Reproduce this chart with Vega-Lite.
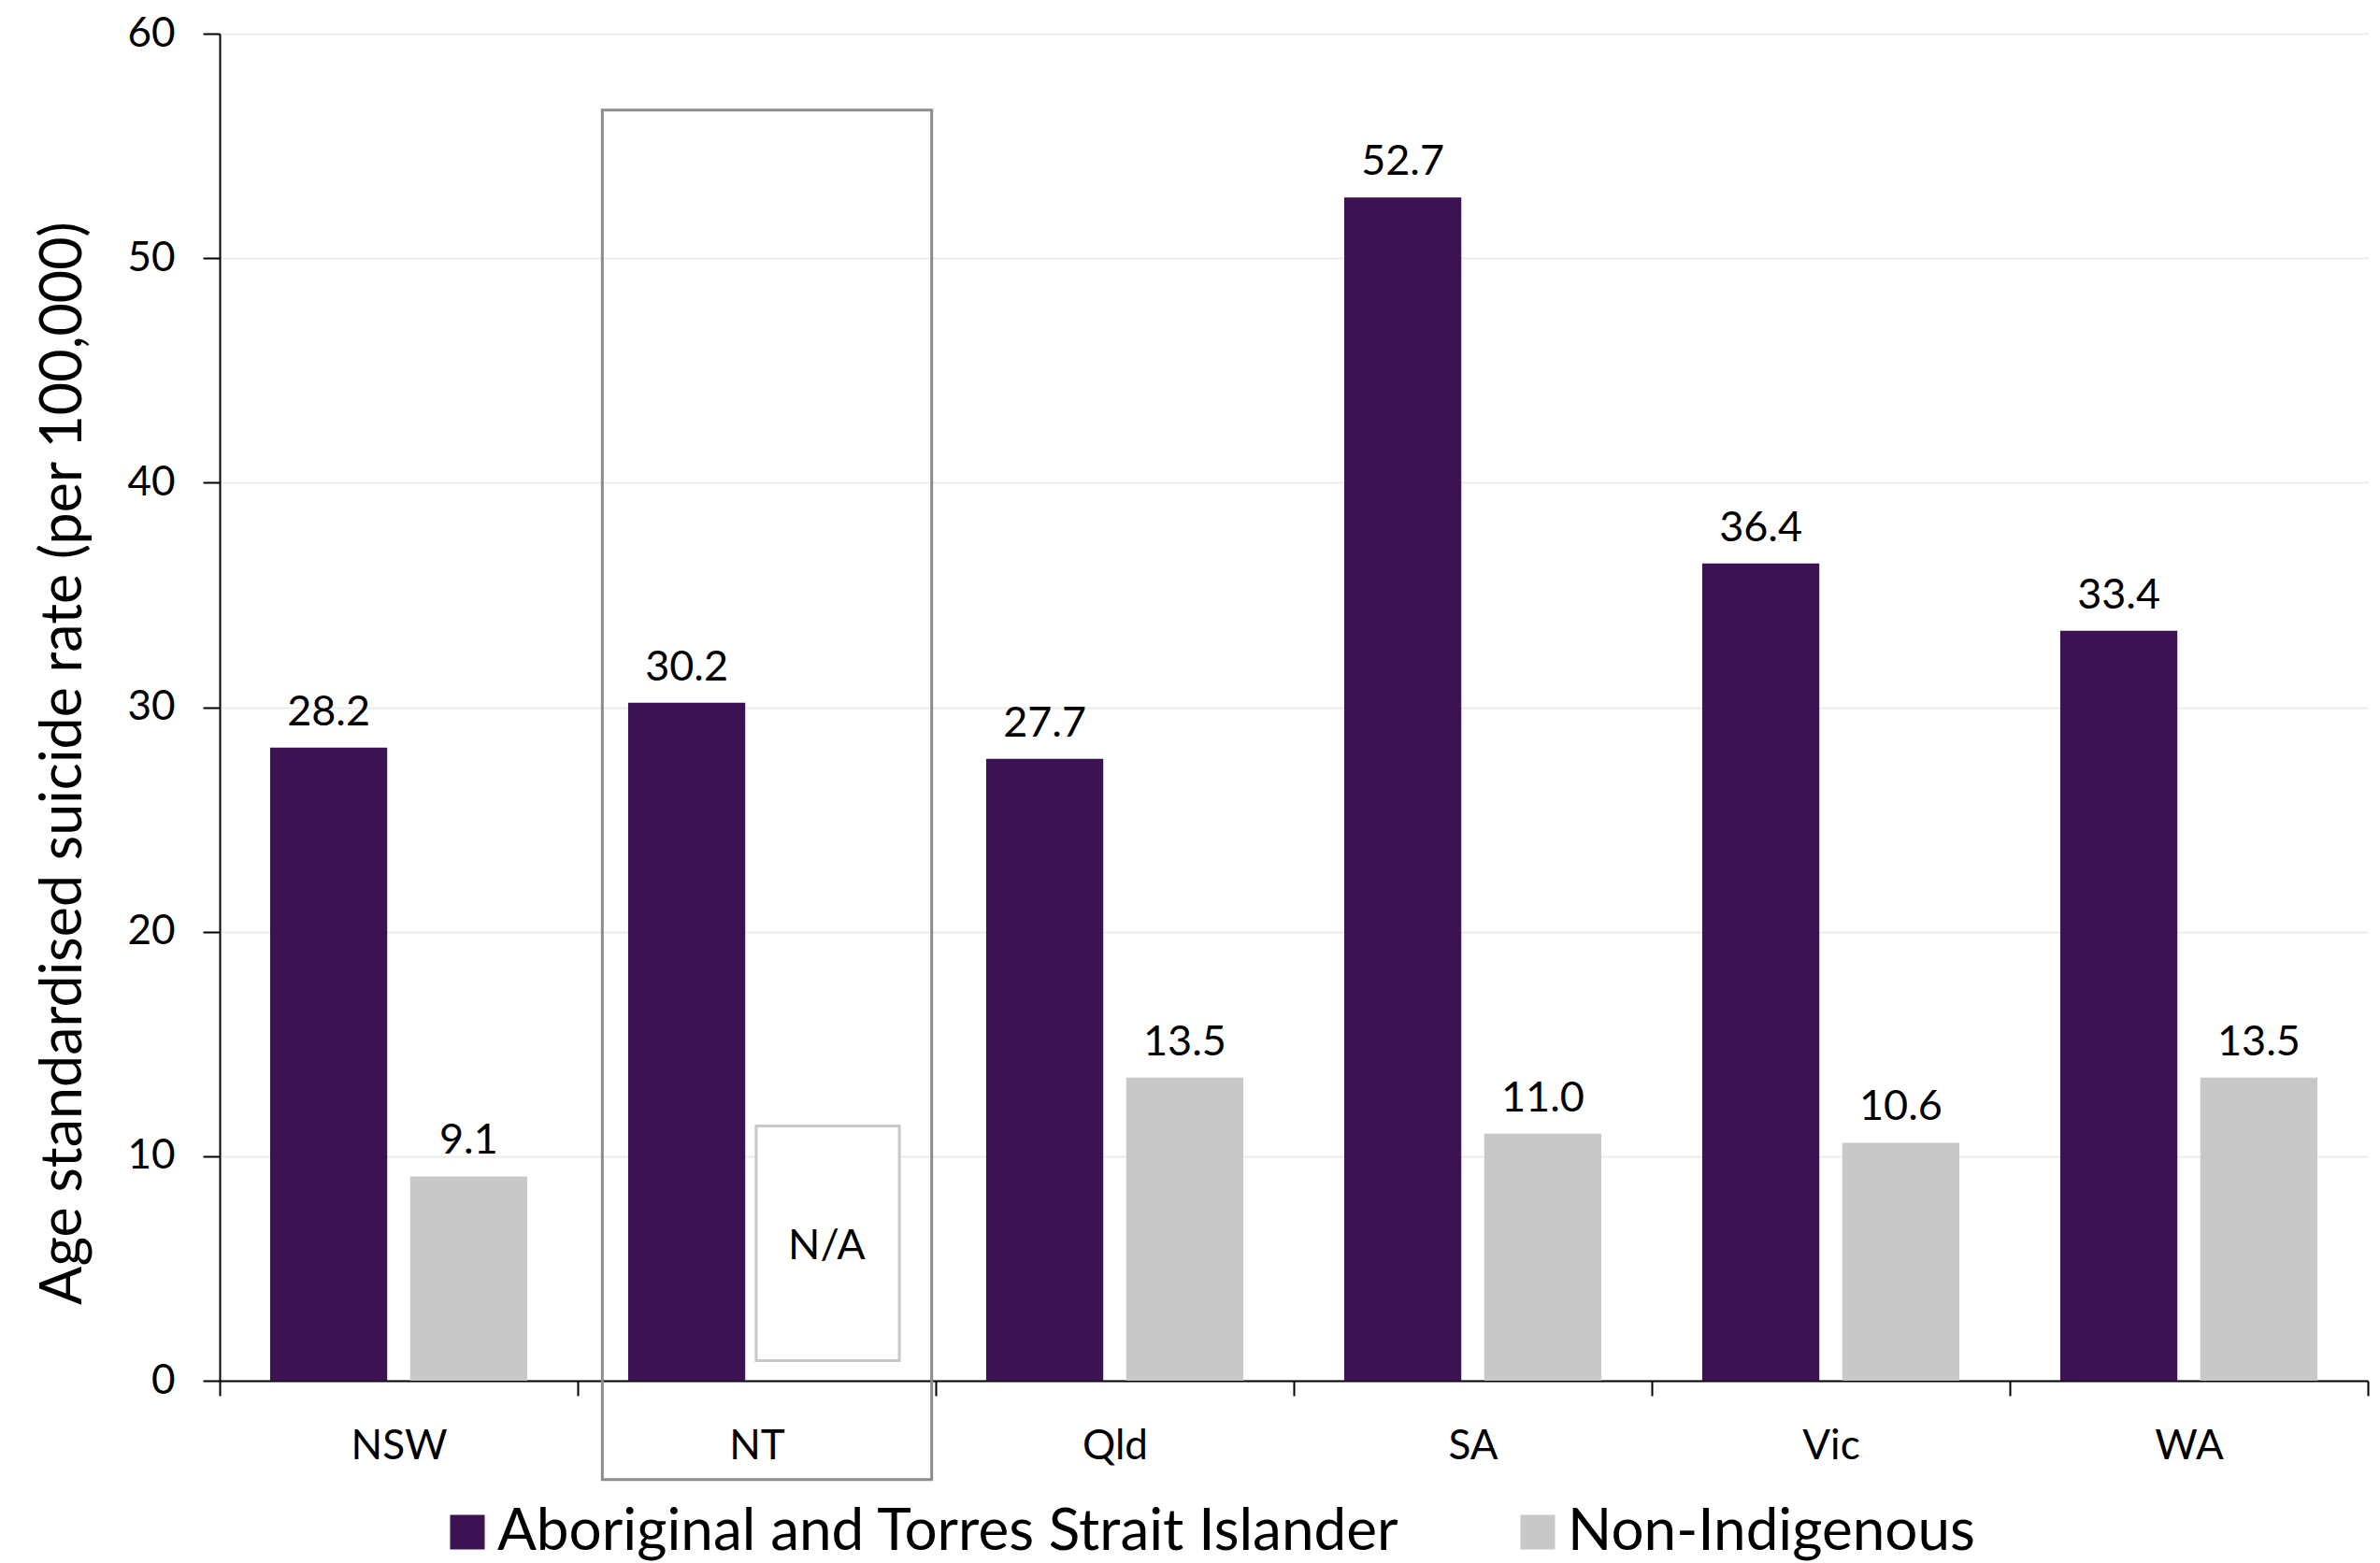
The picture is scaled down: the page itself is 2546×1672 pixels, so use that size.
{
  "$schema": "https://vega.github.io/schema/vega-lite/v6.json",
  "width": 2298,
  "height": 1441,
  "autosize": {"type": "none"},
  "padding": {"left": 235, "top": 36, "right": 13, "bottom": 195},
  "background": "white",
  "config": {
    "font": "Lato",
    "view": {"stroke": null}
  },
  "datasets": {
    "rates": [
      {"state": "NSW", "group": "Aboriginal and Torres Strait Islander", "rate": 28.2},
      {"state": "NSW", "group": "Non-Indigenous", "rate": 9.1},
      {"state": "NT", "group": "Aboriginal and Torres Strait Islander", "rate": 30.2},
      {"state": "Qld", "group": "Aboriginal and Torres Strait Islander", "rate": 27.7},
      {"state": "Qld", "group": "Non-Indigenous", "rate": 13.5},
      {"state": "SA", "group": "Aboriginal and Torres Strait Islander", "rate": 52.7},
      {"state": "SA", "group": "Non-Indigenous", "rate": 11.0},
      {"state": "Vic", "group": "Aboriginal and Torres Strait Islander", "rate": 36.4},
      {"state": "Vic", "group": "Non-Indigenous", "rate": 10.6},
      {"state": "WA", "group": "Aboriginal and Torres Strait Islander", "rate": 33.4},
      {"state": "WA", "group": "Non-Indigenous", "rate": 13.5}
    ],
    "highlight": [
      {"state": "NT", "top": 56.6, "bottom": -4.4}
    ],
    "missing": [
      {"state": "NT", "group": "Non-Indigenous", "top": 11.35, "bottom": 0.9, "mid": 6.0, "note": "N/A"}
    ]
  },
  "encoding": {
    "x": {
      "field": "state",
      "type": "nominal",
      "scale": {"domain": ["NSW", "NT", "Qld", "SA", "Vic", "WA"], "paddingInner": 0, "paddingOuter": 0},
      "axis": {
        "title": null,
        "labelAngle": 0,
        "labelFontSize": 44,
        "labelColor": "#000000",
        "labelPadding": 32,
        "tickBand": "extent",
        "tickSize": 16,
        "tickColor": "#000000",
        "tickWidth": 2,
        "domainColor": "#000000",
        "domainWidth": 2,
        "grid": false
      }
    }
  },
  "layer": [
    {
      "data": {"name": "rates"},
      "mark": {"type": "bar"},
      "encoding": {
        "xOffset": {
          "field": "group",
          "type": "nominal",
          "scale": {"domain": ["Aboriginal and Torres Strait Islander", "Non-Indigenous"], "paddingInner": 0.164, "paddingOuter": 0.36}
        },
        "y": {
          "field": "rate",
          "type": "quantitative",
          "scale": {"domain": [0, 60], "nice": false},
          "axis": {
            "title": "Age standardised suicide rate (per 100,000)",
            "titleFontSize": 61,
            "titleFontWeight": "normal",
            "titleColor": "#000000",
            "titlePadding": 36,
            "titleY": 780,
            "values": [0, 10, 20, 30, 40, 50, 60],
            "labelFontSize": 44,
            "labelColor": "#000000",
            "labelPadding": 30,
            "tickSize": 18,
            "tickColor": "#000000",
            "tickWidth": 2,
            "domainColor": "#000000",
            "domainWidth": 2,
            "grid": true,
            "gridColor": "#ececec",
            "gridWidth": 2
          }
        },
        "color": {
          "field": "group",
          "type": "nominal",
          "scale": {"domain": ["Aboriginal and Torres Strait Islander", "Non-Indigenous"], "range": ["#3d1252", "#c8c8c8"]},
          "legend": {
            "title": null,
            "orient": "none",
            "direction": "horizontal",
            "legendX": 234,
            "legendY": 1572,
            "symbolType": "square",
            "symbolSize": 1369,
            "symbolStrokeWidth": 0,
            "labelFontSize": 62,
            "labelColor": "#000000",
            "labelOffset": 1,
            "labelLimit": 0,
            "columnPadding": 116
          }
        }
      }
    },
    {
      "data": {"name": "rates"},
      "mark": {"type": "text", "fontSize": 45, "color": "#000000", "baseline": "alphabetic", "dy": -24},
      "encoding": {
        "xOffset": {"field": "group", "type": "nominal"},
        "y": {"field": "rate", "type": "quantitative"},
        "text": {"field": "rate", "type": "quantitative", "format": ".1f"}
      }
    },
    {
      "data": {"name": "highlight"},
      "mark": {"type": "bar", "fill": "#ffffff", "fillOpacity": 0, "stroke": "#8c8c8c", "strokeWidth": 3, "width": {"band": 0.92}, "xOffset": 11},
      "encoding": {
        "y": {"field": "top", "type": "quantitative"},
        "y2": {"field": "bottom"}
      }
    },
    {
      "data": {"name": "missing"},
      "mark": {"type": "bar", "fill": "#ffffff", "stroke": "#c8c8c8", "strokeWidth": 3, "width": {"band": 0.4}, "xOffset": 76},
      "encoding": {
        "y": {"field": "top", "type": "quantitative"},
        "y2": {"field": "bottom"}
      }
    },
    {
      "data": {"name": "missing"},
      "mark": {"type": "text", "fontSize": 45, "color": "#000000", "baseline": "middle"},
      "encoding": {
        "xOffset": {"field": "group", "type": "nominal"},
        "y": {"field": "mid", "type": "quantitative"},
        "text": {"field": "note"}
      }
    }
  ]
}
